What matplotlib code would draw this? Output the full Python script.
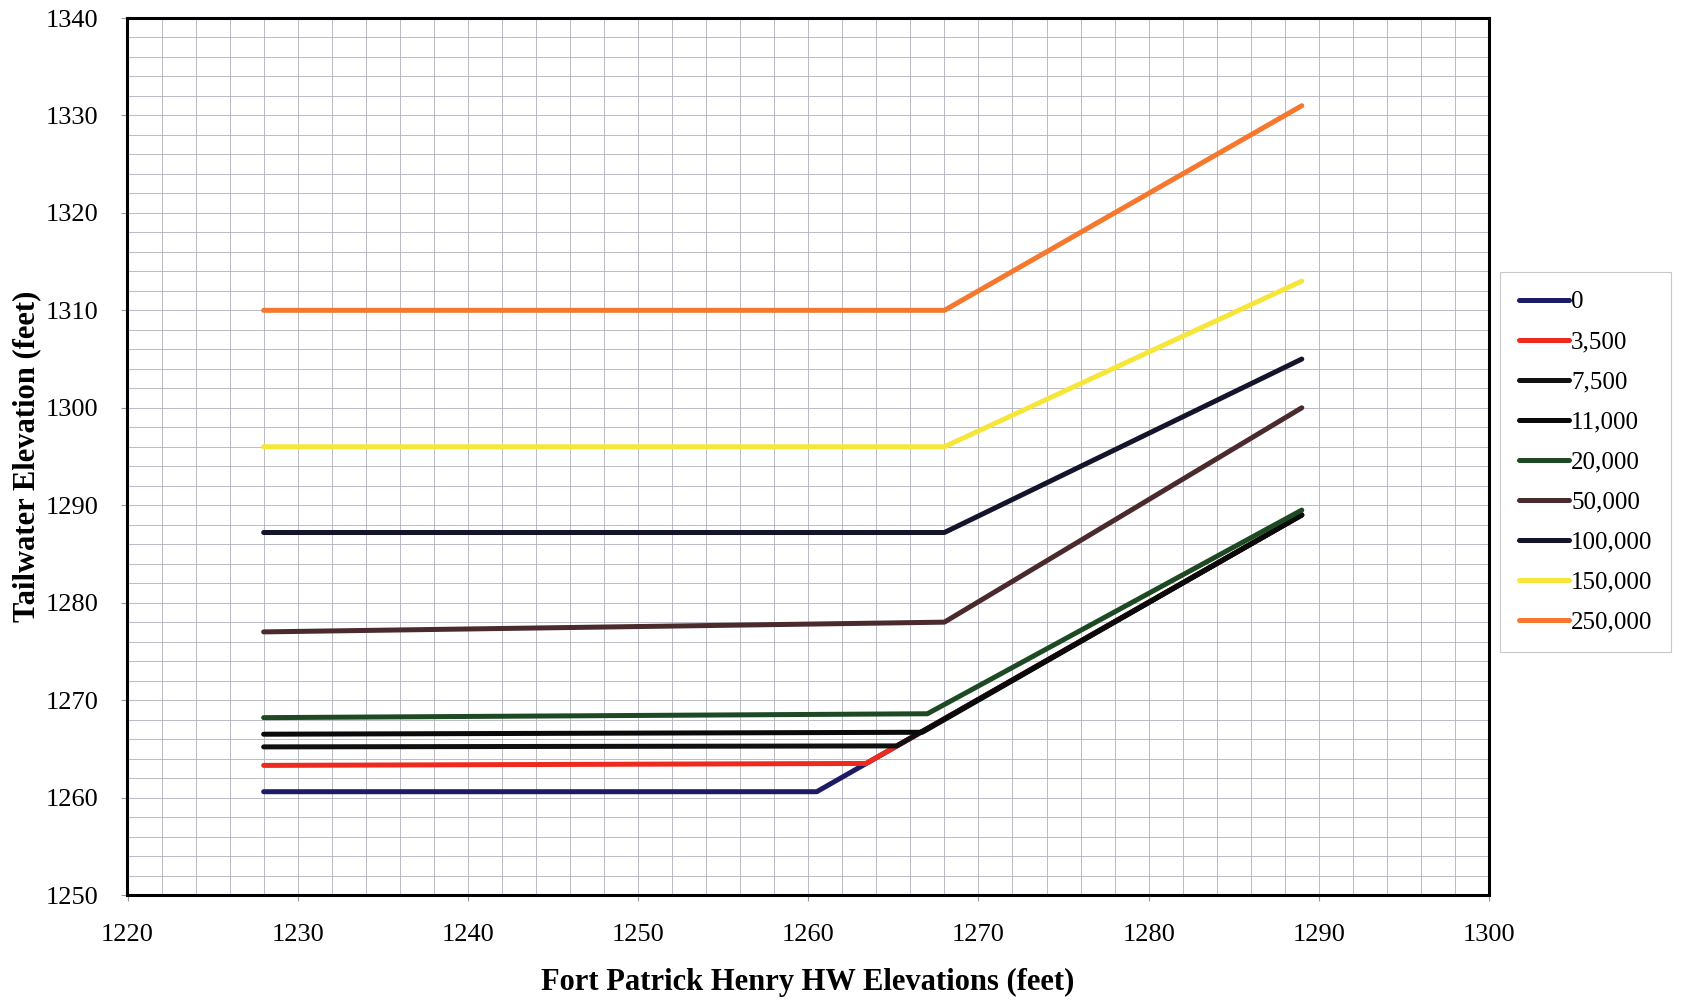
import numpy as np
import matplotlib.pyplot as plt
from matplotlib import rcParams
from matplotlib.ticker import MultipleLocator

rcParams['font.family'] = ['Liberation Serif', 'DejaVu Serif']

# flow (cfs) -> tailwater curve vs Fort Patrick Henry headwater
flows = ['0', '3,500', '7,500', '11,000', '20,000', '50,000', '100,000', '150,000', '250,000']
hw = [
    [1228, 1260.5, 1289],
    [1228, 1263.4, 1289],
    [1228, 1265.2, 1289],
    [1228, 1266.7, 1289],
    [1228, 1267.0, 1289],
    [1228, 1268.0, 1289],
    [1228, 1268.0, 1289],
    [1228, 1268.0, 1289],
    [1228, 1268.0, 1289],
]
tw = [
    [1260.6, 1260.6, 1289.0],
    [1263.3, 1263.5, 1289.0],
    [1265.2, 1265.3, 1289.0],
    [1266.5, 1266.7, 1289.0],
    [1268.2, 1268.6, 1289.5],
    [1277.0, 1278.0, 1300.0],
    [1287.2, 1287.2, 1305.0],
    [1296.0, 1296.0, 1313.0],
    [1310.0, 1310.0, 1331.0],
]
colors = ['#1c1c66', '#ee2a1e', '#111111', '#0a0a0a', '#1d4a22',
          '#4a2a2c', '#14142c', '#f7e63a', '#f5782e']

W, H = 1683, 1002
fig = plt.figure(figsize=(W / 100, H / 100), dpi=100)
ax = fig.add_axes([127.5 / W, 1 - 895 / H, (1489 - 127.5) / W, (895 - 18) / H])

for x, y, c, lab in zip(hw, tw, colors, flows):
    ax.plot(x, y, color=c, lw=3.6, label=lab, solid_capstyle='round', zorder=3)

ax.set_xlim(1220, 1300)
ax.set_ylim(1250, 1340)
ax.xaxis.set_major_locator(MultipleLocator(10))
ax.yaxis.set_major_locator(MultipleLocator(10))
ax.xaxis.set_minor_locator(MultipleLocator(2))
ax.yaxis.set_minor_locator(MultipleLocator(2))
ax.grid(True, which='both', color='#b0b0bc', lw=0.6)
ax.set_axisbelow(True)
ax.tick_params(which='major', direction='out', length=4, width=0.8, color='#999999',
               labelsize=19)
ax.tick_params(axis='x', which='major', pad=17)
ax.tick_params(axis='y', which='major', pad=17)
ax.tick_params(which='minor', length=0)
for s in ax.spines.values():
    s.set_linewidth(2.2)
    s.set_color('black')

fig.text(808 / W, 1 - 982 / H, 'Fort Patrick Henry HW Elevations (feet)',
         fontsize=22, fontweight='bold', ha='center', va='center')
fig.text(27 / W, 1 - 456 / H, 'Tailwater Elevation (feet)', rotation=90,
         fontsize=22, fontweight='bold', ha='center', va='center')

leg = ax.legend(loc='upper left', bbox_to_anchor=(1500 / W, 1 - 272 / H),
                bbox_transform=fig.transFigure, fontsize=18, frameon=True, fancybox=False,
                edgecolor='#bbbbbb', handlelength=2.0, handletextpad=0.1,
                labelspacing=0.7, borderpad=0.75, borderaxespad=0)
leg.get_frame().set_linewidth(0.8)

fig.savefig('out.png', dpi=100)
